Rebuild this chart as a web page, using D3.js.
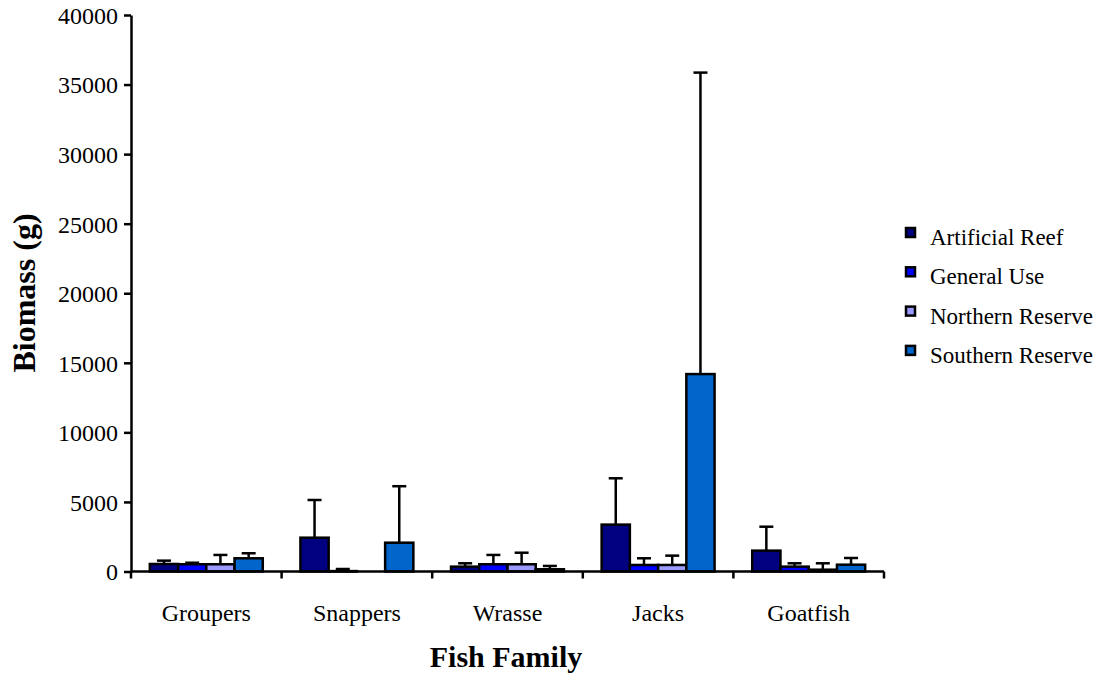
<!DOCTYPE html>
<html>
<head>
<meta charset="utf-8">
<script src="https://cdn.jsdelivr.net/npm/d3@7/dist/d3.min.js"></script>
<style>
  html, body { margin: 0; padding: 0; background: #fff; }
  svg { display: block; }
  svg text { font-family: "Liberation Serif", "DejaVu Serif", serif !important; fill: #000; }
</style>
</head>
<body>
<svg id="chart" width="1106" height="675"></svg>
<script>
// Fish biomass by family and site (mean with upper standard error)
const families = ["Groupers", "Snappers", "Wrasse", "Jacks", "Goatfish"];
const sites = ["Artificial Reef", "General Use", "Northern Reserve", "Southern Reserve"];
const siteColors = ["#000080", "#0000FF", "#9999FF", "#0066CC"];

const artificialReef  = [540, 2430, 350, 3370, 1500];
const generalUse      = [520, 30, 520, 470, 350];
const northernReserve = [520, 0, 520, 470, 130];
const southernReserve = [950, 2070, 160, 14190, 490];

const artificialReefErr  = [240, 2710, 240, 3330, 1720];
const generalUseErr      = [110, 150, 670, 480, 240];
const northernReserveErr = [670, 0, 830, 670, 460];
const southernReserveErr = [360, 4060, 240, 21670, 480];

const yTicks = [0, 5000, 10000, 15000, 20000, 25000, 30000, 35000, 40000];

const seriesValues = [artificialReef, generalUse, northernReserve, southernReserve];
const seriesErrors = [artificialReefErr, generalUseErr, northernReserveErr, southernReserveErr];

const svg = d3.select("#chart");
const plotLeft = 131, plotRight = 884, plotTop = 15, plotBottom = 571.5;

const x = d3.scaleBand().domain(families).range([plotLeft, plotRight]).paddingInner(0.25).paddingOuter(0.125);
const xs = d3.scaleBand().domain(sites).range([0, x.bandwidth()]);
const y = d3.scaleLinear().domain([0, 40000]).range([plotBottom, plotTop]);

// bars with error bars
const groups = svg.append("g").selectAll("g")
  .data(families)
  .join("g")
  .attr("transform", d => `translate(${x(d)},0)`);

groups.each(function(fam, fi) {
  const g = d3.select(this);
  sites.forEach((site, si) => {
    const v = seriesValues[si][fi];
    const e = seriesErrors[si][fi];
    const bx = xs(site);
    const cx = bx + xs.bandwidth() / 2;
    if (e > 0) {
      g.append("line")
        .attr("x1", cx).attr("x2", cx)
        .attr("y1", y(v)).attr("y2", y(v + e))
        .attr("stroke", "#000").attr("stroke-width", 2.5);
      g.append("line")
        .attr("x1", cx - 7).attr("x2", cx + 7)
        .attr("y1", y(v + e)).attr("y2", y(v + e))
        .attr("stroke", "#000").attr("stroke-width", 2.5);
    }
    if (v > 0) {
      g.append("rect")
        .attr("x", bx).attr("width", xs.bandwidth())
        .attr("y", y(v)).attr("height", y(0) - y(v))
        .attr("fill", siteColors[si])
        .attr("stroke", "#000").attr("stroke-width", 2.5);
    }
  });
});

// y axis
const yAxis = svg.append("g")
  .attr("transform", `translate(${plotLeft},0)`)
  .call(d3.axisLeft(y).tickValues(yTicks).tickSize(7).tickSizeOuter(0).tickFormat(d3.format("d")));
yAxis.select(".domain").attr("stroke", "#000").attr("stroke-width", 2.5);
yAxis.selectAll(".tick line").attr("stroke", "#000").attr("stroke-width", 2.5);
yAxis.selectAll(".tick text")
  .attr("x", -13).attr("dy", "0.35em")
  .attr("font-size", 24);

// x axis: baseline with ticks at category boundaries
const xAxisG = svg.append("g");
xAxisG.append("line")
  .attr("x1", plotLeft).attr("x2", plotRight)
  .attr("y1", y(0)).attr("y2", y(0))
  .attr("stroke", "#000").attr("stroke-width", 2.5);
const boundaries = families.map(f => x(f) - x.step() * x.paddingInner() / 2).concat([plotRight]);
xAxisG.selectAll("line.b")
  .data(boundaries)
  .join("line")
  .attr("class", "b")
  .attr("x1", d => d).attr("x2", d => d)
  .attr("y1", y(0)).attr("y2", y(0) + 7)
  .attr("stroke", "#000").attr("stroke-width", 2.5);
xAxisG.selectAll("text")
  .data(families)
  .join("text")
  .attr("x", d => x(d) + x.bandwidth() / 2)
  .attr("y", 621)
  .attr("text-anchor", "middle")
  .attr("font-size", 24)
  .text(d => d);

// axis titles
svg.append("text")
  .attr("x", 506).attr("y", 667)
  .attr("text-anchor", "middle")
  .attr("font-size", 30).attr("font-weight", "bold")
  .text("Fish Family");
svg.append("text")
  .attr("transform", "translate(35,293) rotate(-90)")
  .attr("text-anchor", "middle")
  .attr("font-size", 32).attr("font-weight", "bold")
  .text("Biomass (g)");

// legend
const legend = svg.append("g").selectAll("g")
  .data(sites)
  .join("g")
  .attr("transform", (d, i) => `translate(906,${228 + i * 39.3})`);
legend.append("rect")
  .attr("width", 9).attr("height", 9)
  .attr("fill", (d, i) => siteColors[i])
  .attr("stroke", "#000").attr("stroke-width", 2.5);
legend.append("text")
  .attr("x", 24).attr("y", 17)
  .attr("font-size", 23)
  .text(d => d);
</script>
</body>
</html>
